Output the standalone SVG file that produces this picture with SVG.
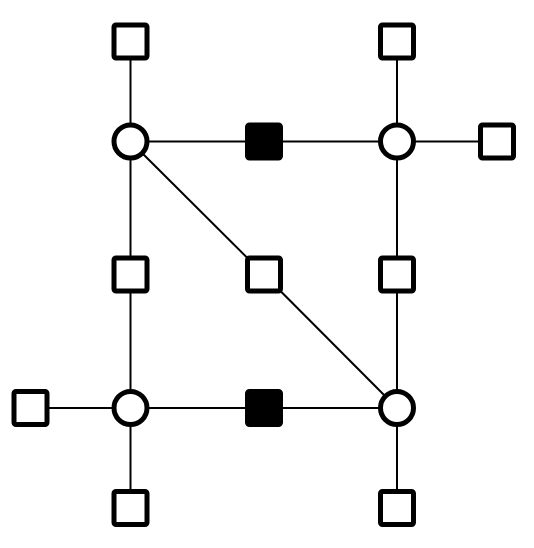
<svg xmlns="http://www.w3.org/2000/svg" width="534" height="548" viewBox="0 0 534 548">
<style>
.e{stroke:#000;stroke-width:2;fill:none}
.v{fill:#fff;stroke:#000;stroke-width:5}
.f{fill:#000;stroke:#000;stroke-width:5}
.sq{fill:#fff;stroke:#000;stroke-width:5}
</style>
<rect width="534" height="548" fill="#fff"/>
<g id="edges">
<line class="e" x1="130.5" y1="41.5" x2="130.5" y2="141.5"/>
<line class="e" x1="130.5" y1="141.5" x2="264" y2="141.5"/>
<line class="e" x1="264" y1="141.5" x2="397" y2="141.5"/>
<line class="e" x1="397" y1="41.5" x2="397" y2="141.5"/>
<line class="e" x1="397" y1="141.5" x2="497" y2="141.5"/>
<line class="e" x1="130.5" y1="141.5" x2="130.5" y2="274.5"/>
<line class="e" x1="130.5" y1="274.5" x2="130.5" y2="408"/>
<line class="e" x1="130.5" y1="141.5" x2="264" y2="274.5"/>
<line class="e" x1="264" y1="274.5" x2="397" y2="408"/>
<line class="e" x1="397" y1="141.5" x2="397" y2="274.5"/>
<line class="e" x1="397" y1="274.5" x2="397" y2="408"/>
<line class="e" x1="30.5" y1="408" x2="130.5" y2="408"/>
<line class="e" x1="130.5" y1="408" x2="264" y2="408"/>
<line class="e" x1="264" y1="408" x2="397" y2="408"/>
<line class="e" x1="130.5" y1="408" x2="130.5" y2="508"/>
<line class="e" x1="397" y1="408" x2="397" y2="508"/>
</g>
<g id="n1"><rect class="sq" x="114" y="25" width="33" height="33" rx="2"/></g>
<g id="n2"><rect class="sq" x="380.5" y="25" width="33" height="33" rx="2"/></g>
<g id="n3"><circle class="v" cx="130.5" cy="141.5" r="16.5"/></g>
<g id="n4"><rect class="f" x="247.5" y="125" width="33" height="33" rx="2"/></g>
<g id="n5"><circle class="v" cx="397" cy="141.5" r="16.5"/></g>
<g id="n6"><rect class="sq" x="480.5" y="125" width="33" height="33" rx="2"/></g>
<g id="n7"><rect class="sq" x="114" y="258" width="33" height="33" rx="2"/></g>
<g id="n8"><rect class="sq" x="247.5" y="258" width="33" height="33" rx="2"/></g>
<g id="n9"><rect class="sq" x="380.5" y="258" width="33" height="33" rx="2"/></g>
<g id="n10"><rect class="sq" x="14" y="391.5" width="33" height="33" rx="2"/></g>
<g id="n11"><circle class="v" cx="130.5" cy="408" r="16.5"/></g>
<g id="n12"><rect class="f" x="247.5" y="391.5" width="33" height="33" rx="2"/></g>
<g id="n13"><circle class="v" cx="397" cy="408" r="16.5"/></g>
<g id="n14"><rect class="sq" x="114" y="491.5" width="33" height="33" rx="2"/></g>
<g id="n15"><rect class="sq" x="380.5" y="491.5" width="33" height="33" rx="2"/></g>
</svg>
